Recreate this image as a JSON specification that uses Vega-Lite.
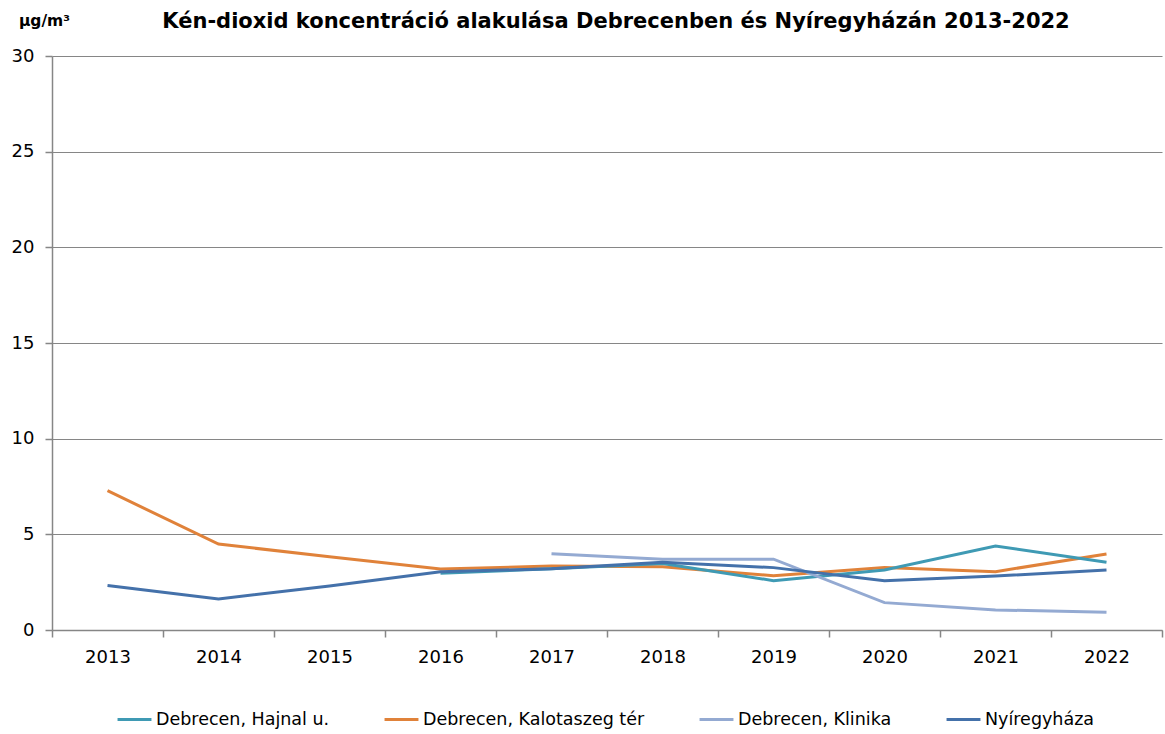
{
  "$schema": "https://vega.github.io/schema/vega-lite/v6.json",
  "width": 1110,
  "height": 574,
  "autosize": {"type": "none"},
  "padding": {"left": 52, "top": 56, "right": 3, "bottom": 104},
  "background": "white",
  "config": {"font": "DejaVu Sans", "view": {"stroke": null}},
  "title": {
    "text": "Kén-dioxid koncentráció alakulása Debrecenben és Nyíregyházán 2013-2022",
    "font": "DejaVu Sans",
    "fontSize": 21,
    "fontWeight": "bold",
    "color": "black",
    "anchor": "middle",
    "frame": "group",
    "offset": 0,
    "dy": 19,
    "dx": 9
  },
  "data": {
    "values": [
      {"series": "Debrecen, Kalotaszeg tér", "year": "2013", "value": 7.28},
      {"series": "Debrecen, Kalotaszeg tér", "year": "2014", "value": 4.49},
      {"series": "Debrecen, Kalotaszeg tér", "year": "2015", "value": 3.83},
      {"series": "Debrecen, Kalotaszeg tér", "year": "2016", "value": 3.19},
      {"series": "Debrecen, Kalotaszeg tér", "year": "2017", "value": 3.34},
      {"series": "Debrecen, Kalotaszeg tér", "year": "2018", "value": 3.3},
      {"series": "Debrecen, Kalotaszeg tér", "year": "2019", "value": 2.84},
      {"series": "Debrecen, Kalotaszeg tér", "year": "2020", "value": 3.26},
      {"series": "Debrecen, Kalotaszeg tér", "year": "2021", "value": 3.05},
      {"series": "Debrecen, Kalotaszeg tér", "year": "2022", "value": 3.97},
      {"series": "Debrecen, Hajnal u.", "year": "2016", "value": 2.96},
      {"series": "Debrecen, Hajnal u.", "year": "2017", "value": 3.2},
      {"series": "Debrecen, Hajnal u.", "year": "2018", "value": 3.48},
      {"series": "Debrecen, Hajnal u.", "year": "2019", "value": 2.58},
      {"series": "Debrecen, Hajnal u.", "year": "2020", "value": 3.14},
      {"series": "Debrecen, Hajnal u.", "year": "2021", "value": 4.39},
      {"series": "Debrecen, Hajnal u.", "year": "2022", "value": 3.54},
      {"series": "Debrecen, Klinika", "year": "2017", "value": 3.99},
      {"series": "Debrecen, Klinika", "year": "2018", "value": 3.7},
      {"series": "Debrecen, Klinika", "year": "2019", "value": 3.7},
      {"series": "Debrecen, Klinika", "year": "2020", "value": 1.43},
      {"series": "Debrecen, Klinika", "year": "2021", "value": 1.05},
      {"series": "Debrecen, Klinika", "year": "2022", "value": 0.93},
      {"series": "Nyíregyháza", "year": "2013", "value": 2.32},
      {"series": "Nyíregyháza", "year": "2014", "value": 1.62},
      {"series": "Nyíregyháza", "year": "2015", "value": 2.3},
      {"series": "Nyíregyháza", "year": "2016", "value": 3.05},
      {"series": "Nyíregyháza", "year": "2017", "value": 3.2},
      {"series": "Nyíregyháza", "year": "2018", "value": 3.54},
      {"series": "Nyíregyháza", "year": "2019", "value": 3.26},
      {"series": "Nyíregyháza", "year": "2020", "value": 2.58},
      {"series": "Nyíregyháza", "year": "2021", "value": 2.82},
      {"series": "Nyíregyháza", "year": "2022", "value": 3.14}
    ]
  },
  "mark": {"type": "line", "strokeWidth": 3},
  "encoding": {
    "x": {
      "field": "year",
      "type": "ordinal",
      "scale": {"type": "band", "paddingInner": 0, "paddingOuter": 0},
      "axis": {
        "title": null,
        "labelAngle": 0,
        "tickBand": "extent",
        "grid": false,
        "domainColor": "#868686",
        "domainWidth": 1.5,
        "tickColor": "#868686",
        "tickWidth": 1.5,
        "tickSize": 7,
        "labelFontSize": 18,
        "labelFont": "DejaVu Sans",
        "labelColor": "black",
        "labelPadding": 11
      }
    },
    "y": {
      "field": "value",
      "type": "quantitative",
      "scale": {"domain": [0, 30]},
      "axis": {
        "values": [0, 5, 10, 15, 20, 25, 30],
        "title": "µg/m³",
        "titleAngle": 0,
        "titleX": -8,
        "titleY": -36,
        "titleAlign": "center",
        "titleBaseline": "middle",
        "titleFontSize": 15.5,
        "titleFontWeight": "bold",
        "titleFont": "DejaVu Sans",
        "titleColor": "black",
        "grid": true,
        "gridColor": "#868686",
        "gridWidth": 1,
        "domainColor": "#868686",
        "domainWidth": 1.5,
        "tickColor": "#868686",
        "tickWidth": 1.5,
        "tickSize": 7,
        "labelFontSize": 18,
        "labelFont": "DejaVu Sans",
        "labelColor": "black",
        "labelPadding": 11
      }
    },
    "color": {
      "field": "series",
      "type": "nominal",
      "scale": {
        "domain": ["Debrecen, Hajnal u.", "Debrecen, Kalotaszeg tér", "Debrecen, Klinika", "Nyíregyháza"],
        "range": ["#3F9AB4", "#E0823A", "#94AAD2", "#4471AA"]
      },
      "legend": {
        "title": null,
        "orient": "none",
        "legendX": 64,
        "legendY": 645,
        "direction": "horizontal",
        "symbolType": "stroke",
        "symbolSize": 1150,
        "symbolStrokeWidth": 3,
        "labelFontSize": 17.5,
        "labelFont": "DejaVu Sans",
        "labelColor": "black",
        "labelOffset": 3,
        "columnPadding": 48,
        "labelLimit": 400
      }
    }
  }
}
